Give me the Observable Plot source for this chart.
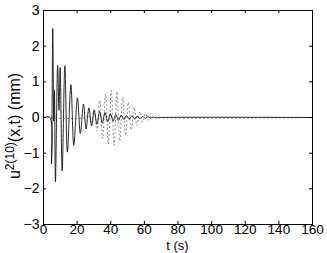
<!DOCTYPE html>
<html>
<head>
<meta charset="utf-8">
<script src="https://cdn.jsdelivr.net/npm/d3@7"></script>
<script src="https://cdn.jsdelivr.net/npm/@observablehq/plot@0.6"></script>
<style>
  html, body { margin: 0; padding: 0; background: #fff; }
  #chart { width: 327px; height: 253px; }
</style>
</head>
<body>
<div id="chart"></div>
<script>
// Solid curve: extrema (t in s, u in mm)
const solidT = [0, 3.8, 4.7, 5.5, 6.1, 6.5, 7.1, 8.4, 9.2, 9.9, 11.1, 12.7, 14.2, 16.3, 18.0, 20.2, 21.9, 23.8, 25.3, 27.0, 28.6, 30.2, 31.8, 33.4, 35.0, 36.6, 38.2, 39.8, 41.4, 43.0, 44.6, 46.2, 47.8, 49.4, 51.0, 52.6, 54.2, 55.8, 57.4, 59.0, 60.6, 62.2, 63.8, 65.4, 67.0, 70, 160];
const solidU = [0, 0, -1.30, 2.50, -0.10, 0.76, -1.80, 1.46, 0.20, 1.40, -1.50, 1.45, -0.97, 0.92, -0.78, 0.55, -0.45, 0.38, -0.32, 0.27, -0.24, 0.20, -0.19, 0.17, -0.15, 0.14, -0.12, 0.11, -0.10, 0.09, -0.08, 0.07, -0.06, 0.055, -0.05, 0.045, -0.04, 0.035, -0.03, 0.03, -0.025, 0.02, -0.02, 0.015, -0.01, 0, 0];
// Dotted curve: extrema
const dotT = [0, 25.0, 26.7, 28.4, 30.1, 31.8, 33.5, 35.2, 36.9, 38.6, 40.3, 42.0, 43.7, 45.4, 47.1, 48.8, 50.5, 52.2, 53.9, 55.6, 57.3, 59.0, 60.7, 62.4, 64.1, 65.8, 67.5, 69.0, 160];
const dotU = [0, 0, 0.08, -0.15, 0.25, -0.38, 0.48, -0.58, 0.66, -0.74, 0.76, -0.78, 0.72, -0.66, 0.58, -0.50, 0.42, -0.35, 0.28, -0.22, 0.17, -0.13, 0.10, -0.07, 0.05, -0.03, 0.02, 0, 0];

const xTicks = [0, 20, 40, 60, 80, 100, 120, 140, 160];
const yTicks = [-3, -2, -1, 0, 1, 2, 3];
const xLabel = "t (s)";
const yLabelMain = "u";
const yLabelSup = "2(10)";
const yLabelRest = "(x,t) (mm)";

const solid = solidT.map((t, i) => ({t, u: solidU[i]}));
const dotted = dotT.map((t, i) => ({t, u: dotU[i]}));

const W = 327, H = 253;
const mL = 43, mR = 15, mT = 10, mB = 29;
const innerW = W - mL - mR, innerH = H - mT - mB;
const tk = 3;
const font = "'Liberation Sans Narrow', 'Liberation Sans', Arial, sans-serif";

const chart = Plot.plot({
  width: W, height: H,
  marginLeft: mL, marginRight: mR, marginTop: mT, marginBottom: mB,
  style: {fontFamily: font, fontSize: "14px", color: "#000", background: "#fff", overflow: "visible"},
  x: {domain: [0, 160], ticks: xTicks},
  y: {domain: [-3, 3], ticks: yTicks},
  marks: [
    Plot.line(dotted, {x: "t", y: "u", curve: "catmull-rom", stroke: "#666", strokeWidth: 0.8, strokeDasharray: "1,3"}),
    Plot.line(solid, {x: "t", y: "u", curve: "catmull-rom", stroke: "#111", strokeWidth: 0.9}),
    Plot.frame({stroke: "#000", strokeWidth: 1}),
    Plot.tickX(xTicks, {x: d => d, insetTop: innerH - tk, stroke: "#000"}),
    Plot.tickX(xTicks, {x: d => d, insetBottom: innerH - tk, stroke: "#000"}),
    Plot.tickY(yTicks, {y: d => d, insetRight: innerW - tk, stroke: "#000"}),
    Plot.tickY(yTicks, {y: d => d, insetLeft: innerW - tk, stroke: "#000"}),
    Plot.axisX(xTicks, {anchor: "bottom", tickSize: 0, tickPadding: 0, label: null, fontSize: 13.5}),
    Plot.axisY(yTicks, {anchor: "left", tickSize: 0, tickPadding: 4, label: null, fontSize: 14, tickFormat: d => d < 0 ? "\u2212" + Math.abs(d) : String(d)})
  ]
});

const svg = d3.select(chart);
// x label
svg.append("text")
  .attr("x", mL + innerW / 2)
  .attr("y", 250)
  .attr("text-anchor", "middle")
  .attr("font-family", font)
  .attr("font-size", 13)
  .attr("fill", "#000")
  .text(xLabel);
// y label with superscript
const yl = svg.append("text")
  .attr("transform", "translate(20,126) rotate(-90)")
  .attr("text-anchor", "middle")
  .attr("font-family", font)
  .attr("font-size", 16)
  .attr("fill", "#000");
yl.append("tspan").text(yLabelMain);
yl.append("tspan").attr("font-size", 12).attr("dy", -6).text(yLabelSup);
yl.append("tspan").attr("dy", 6).text(yLabelRest);

document.getElementById("chart").appendChild(chart);
</script>
</body>
</html>
